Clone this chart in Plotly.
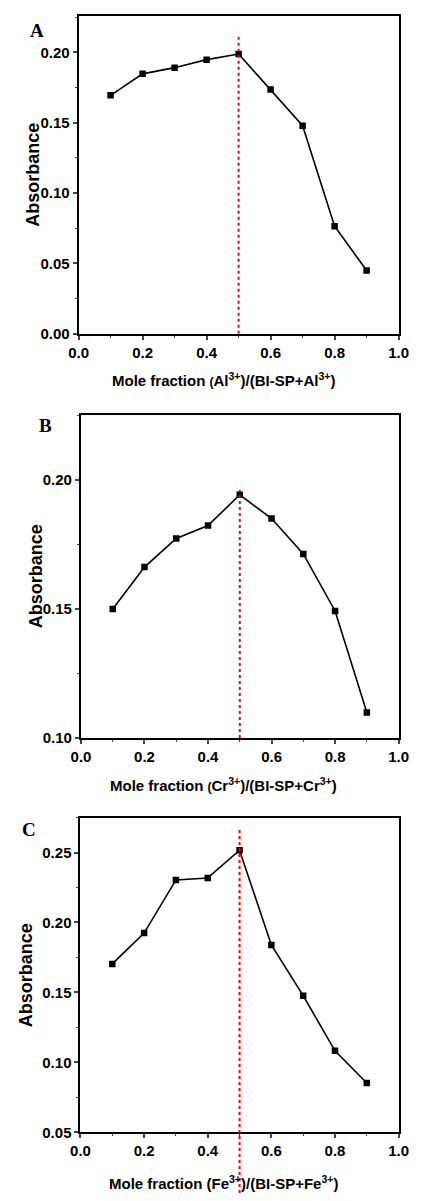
import plotly.graph_objects as go

x_frac = [0.1, 0.2, 0.3, 0.4, 0.5, 0.6, 0.7, 0.8, 0.9]
abs_al = [0.1695, 0.1848, 0.1892, 0.1949, 0.1989, 0.1737, 0.1479, 0.0765, 0.0450]
abs_cr = [0.1500, 0.1662, 0.1773, 0.1823, 0.1942, 0.1850, 0.1713, 0.1492, 0.1099]
abs_fe = [0.1704, 0.1924, 0.2304, 0.2318, 0.2516, 0.1839, 0.1477, 0.1083, 0.0853]
x_ticks = [0.0, 0.2, 0.4, 0.6, 0.8, 1.0]
x_tick_labels = ["0.0", "0.2", "0.4", "0.6", "0.8", "1.0"]
y_ticks_a = [0.00, 0.05, 0.10, 0.15, 0.20]
y_ticks_b = [0.10, 0.15, 0.20]
y_ticks_c = [0.05, 0.10, 0.15, 0.20, 0.25]
stoich_x = 0.5
panel_letters = ["A", "B", "C"]
x_titles = [
    "Mole fraction <span style='font-size:12px'>(</span>Al<sup>3+</sup>)/(BI-SP+Al<sup>3+</sup>)",
    "Mole fraction <span style='font-size:12px'>(</span>Cr<sup>3+</sup>)/(BI-SP+Cr<sup>3+</sup>)",
    "Mole fraction (Fe<sup>3+</sup>)/(BI-SP+Fe<sup>3+</sup>)",
]

W, H = 421, 1201
FONT = "Liberation Sans, Arial, sans-serif"
TICK_SIZE = 15


def px_x(p):
    return p / W


def px_y(p):
    return 1 - p / H


def bold(labels):
    return ["<b>%s</b>" % s for s in labels]


panels = [
    dict(y=abs_al, yr=[0.0, 0.226], yt=y_ticks_a,
         xd=[px_x(72), px_x(408)], yd=[px_y(336), px_y(16)],
         red_top=0.2118, letter_xy=(28, 31), title_y=382, ytitle_x=24),
    dict(y=abs_cr, yr=[0.10, 0.225], yt=y_ticks_b,
         xd=[px_x(74.5), px_x(408)], yd=[px_y(743), px_y(418)],
         red_top=0.196, letter_xy=(37, 428), title_y=790, ytitle_x=27),
    dict(y=abs_fe, yr=[0.05, 0.275], yt=y_ticks_c,
         xd=[px_x(74), px_x(408)], yd=[px_y(1140), px_y(823)],
         red_top=0.266, letter_xy=(20, 835), title_y=1190, ytitle_x=17),
]

fig = go.Figure()
layout = dict(
    width=W, height=H, margin=dict(l=0, r=0, t=0, b=0),
    paper_bgcolor="white", plot_bgcolor="white", showlegend=False,
    font=dict(family=FONT, color="black"),
)
annotations = []
shapes = []

for i, p in enumerate(panels):
    n = "" if i == 0 else str(i + 1)
    xa, ya = "x" + n, "y" + n
    fig.add_trace(go.Scatter(
        x=x_frac, y=p["y"], mode="lines+markers", xaxis=xa, yaxis=ya,
        line=dict(color="black", width=1.6),
        marker=dict(symbol="square", size=6.5, color="black"),
    ))
    layout["xaxis" + n] = dict(
        domain=p["xd"], anchor=ya, range=[0, 1.0], tickvals=x_ticks,
        ticktext=bold(x_tick_labels), ticks="outside", ticklen=4, tickwidth=1.5,
        minor=dict(dtick=0.1, ticks="outside", ticklen=2, tickwidth=1.2),
        showline=True, linewidth=2, linecolor="black", mirror=True,
        showgrid=False, zeroline=False,
        tickfont=dict(family=FONT, size=TICK_SIZE, color="black"),
    )
    layout["yaxis" + n] = dict(
        domain=p["yd"], anchor=xa, range=p["yr"], tickvals=p["yt"],
        ticktext=bold(["%.2f" % v for v in p["yt"]]), ticks="outside", ticklen=4,
        tickwidth=1.5,
        minor=dict(dtick=0.025, ticks="outside", ticklen=2, tickwidth=1.2),
        showline=True, linewidth=2, linecolor="black", mirror=True,
        showgrid=False, zeroline=False,
        tickfont=dict(family=FONT, size=TICK_SIZE, color="black"),
    )
    if i < 2:
        shapes.append(dict(type="line", xref=xa, yref=ya, x0=stoich_x, x1=stoich_x,
                           y0=p["yr"][0], y1=p["red_top"],
                           line=dict(color="red", width=2, dash="dot")))
    else:
        shapes.append(dict(type="line", xref=xa, yref="paper", x0=stoich_x, x1=stoich_x,
                           y0=px_y(1201), y1=px_y(835),
                           line=dict(color="red", width=2, dash="dot")))
    lx, ly = p["letter_xy"]
    annotations.append(dict(
        text="<b>%s</b>" % panel_letters[i], xref="paper", yref="paper",
        x=px_x(lx), y=px_y(ly), showarrow=False, xanchor="center", yanchor="middle",
        font=dict(family="Liberation Serif, Times New Roman, serif", size=19, color="black"),
    ))
    annotations.append(dict(
        text="<b>%s</b>" % x_titles[i], xref="paper", yref="paper",
        x=px_x(224), y=px_y(p["title_y"]), showarrow=False, xanchor="center", yanchor="middle",
        font=dict(family=FONT, size=15, color="black"),
    ))
    annotations.append(dict(
        text="<b>Absorbance</b>", xref="paper", yref="paper", textangle=-90,
        x=px_x(p["ytitle_x"]), y=(p["yd"][0] + p["yd"][1]) / 2, showarrow=False,
        xanchor="center", yanchor="middle",
        font=dict(family=FONT, size=18, color="black"),
    ))

layout["annotations"] = annotations
layout["shapes"] = shapes
fig.update_layout(**layout)
fig.write_html("out.html")
